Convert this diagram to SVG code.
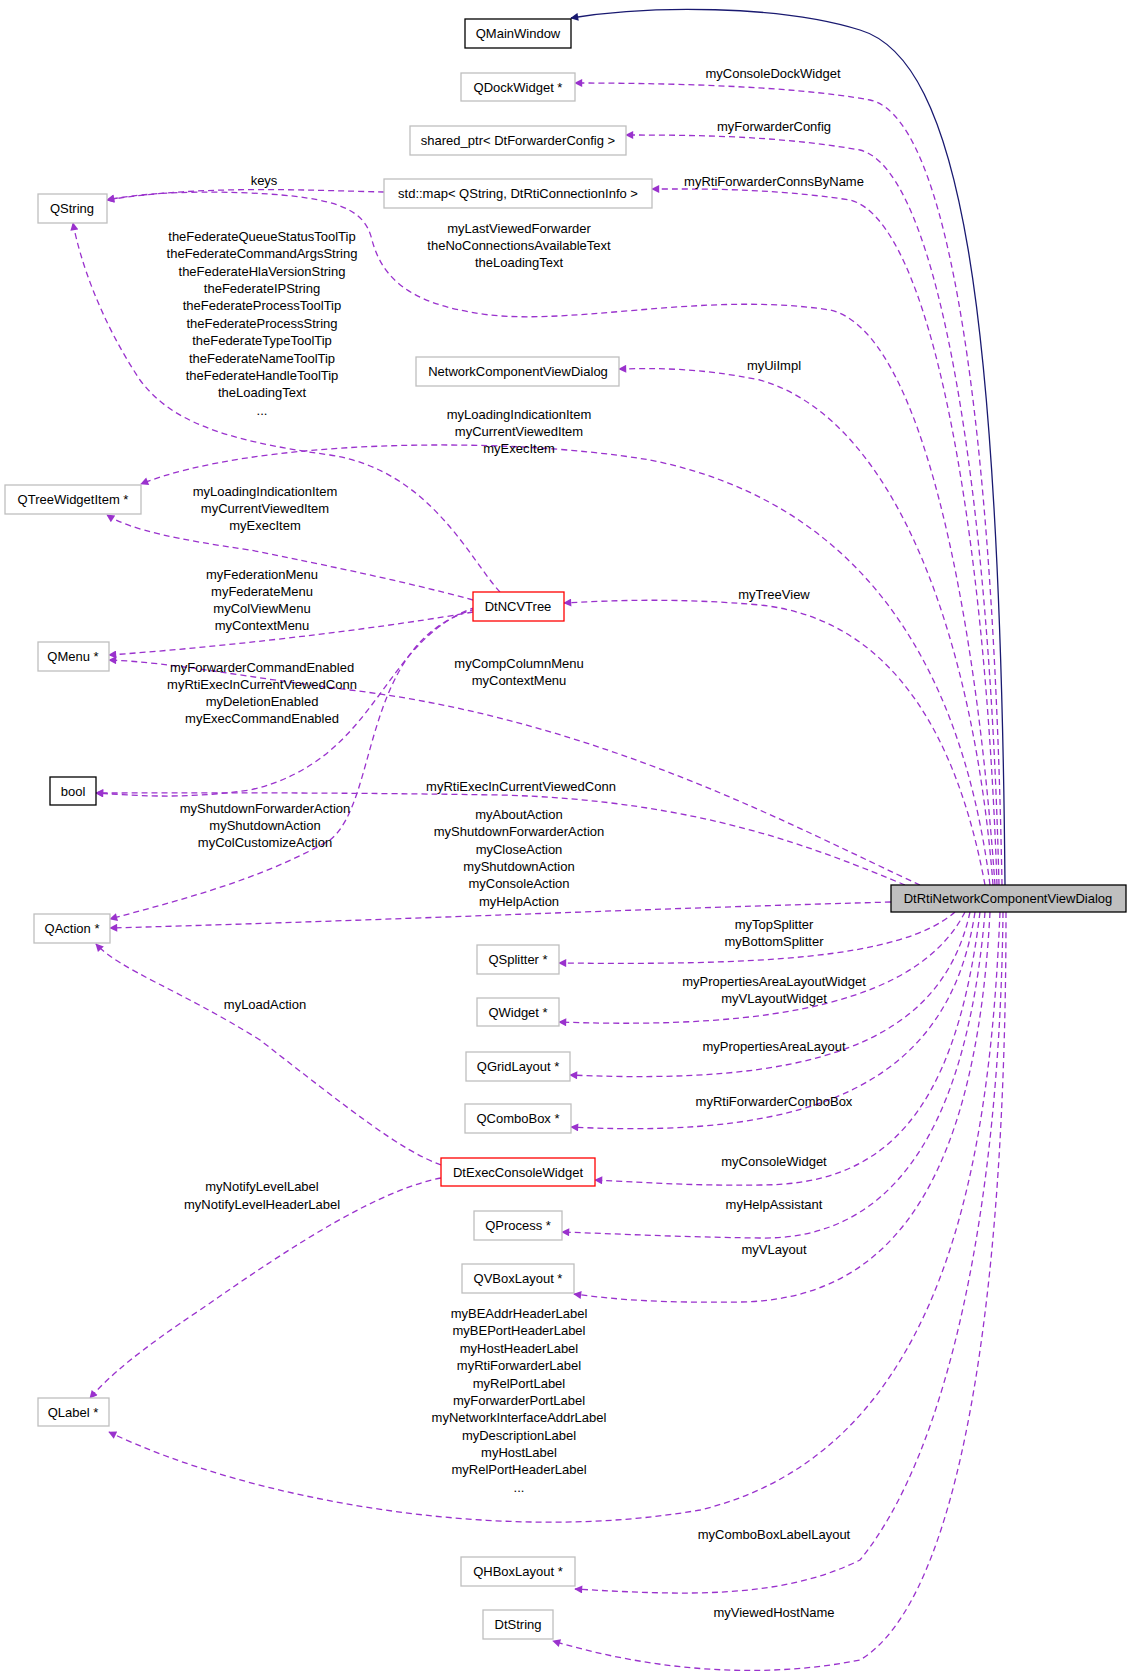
<svg xmlns="http://www.w3.org/2000/svg" width="1131" height="1673" viewBox="0 0 1131 1673">
<style>
text{font-family:"Liberation Sans",Arial,sans-serif;font-size:13px;fill:#000;text-anchor:middle}
.n{fill:#fff;stroke:#bfbfbf;stroke-width:1.3}
.b{fill:#fff;stroke:#000;stroke-width:1.3}
.r{fill:#fff;stroke:#ff0000;stroke-width:1.3}
.m{fill:#bfbfbf;stroke:#000;stroke-width:1.3}
.e{fill:none;stroke:#9a32cd;stroke-width:1.3;stroke-dasharray:6,4;marker-end:url(#ap)}
.s{fill:none;stroke:#191970;stroke-width:1.3;marker-end:url(#an)}
</style>
<defs>
<marker id="ap" viewBox="0 0 10 10" refX="9" refY="5" markerWidth="10" markerHeight="8" markerUnits="userSpaceOnUse" orient="auto"><path d="M0,0L10,5L0,10z" fill="#9a32cd"/></marker>
<marker id="an" viewBox="0 0 10 10" refX="9" refY="5" markerWidth="10" markerHeight="8" markerUnits="userSpaceOnUse" orient="auto"><path d="M0,0L10,5L0,10z" fill="#191970"/></marker>
</defs>
<rect width="1131" height="1673" fill="#fff"/>
<g id="connectors">
<path class="s" d="M1005,885 C1000,300 960,60 860,30 C780,5 650,5 571,18"/>
<path class="e" d="M1002,885 C995,500 960,120 870,100 C790,85 650,83 575,83"/>
<path class="e" d="M999,885 C990,500 940,170 860,150 C780,136 700,135 626,135"/>
<path class="e" d="M997,885 C985,520 930,220 850,200 C770,188 700,189 652,189"/>
<path class="e" d="M384,192 C300,190 200,185 107,200"/>
<path class="e" d="M995,885 C975,600 920,330 830,310 C700,290 560,330 470,312 C400,300 380,270 372,240 C365,210 340,197 250,193 C180,190 130,195 107,200"/>
<path class="e" d="M993,885 C975,650 900,420 760,380 C700,368 660,368 619,369"/>
<path class="e" d="M990,885 C960,650 850,500 650,460 C500,435 250,440 141,484"/>
<path class="e" d="M473,600 C400,580 300,560 250,550 C180,540 130,530 107,515"/>
<path class="e" d="M500,592 C470,560 430,470 330,455 C220,440 170,420 140,380 C100,320 80,260 73,223"/>
<path class="e" d="M985,885 C960,750 900,620 760,605 C680,598 620,600 564,603"/>
<path class="e" d="M473,612 C400,625 250,645 109,655"/>
<path class="e" d="M920,885 C800,830 600,720 350,690 C250,678 170,662 109,660"/>
<path class="e" d="M476,607 C380,640 380,760 250,790 C180,800 130,795 96,793"/>
<path class="e" d="M905,885 C820,850 700,800 500,795 C300,792 200,793 96,793"/>
<path class="e" d="M476,609 C360,640 380,800 330,840 C260,880 180,900 110,919"/>
<path class="e" d="M891,902 C600,910 400,920 110,928"/>
<path class="e" d="M955,912 C900,960 750,965 559,963"/>
<path class="e" d="M965,912 C920,1000 780,1030 559,1022"/>
<path class="e" d="M970,912 C940,1050 800,1085 570,1075"/>
<path class="e" d="M975,912 C950,1080 820,1140 571,1127"/>
<path class="e" d="M980,912 C955,1120 880,1185 760,1185 C690,1186 640,1182 595,1180"/>
<path class="e" d="M985,912 C965,1150 880,1240 760,1238 C680,1237 620,1234 562,1232"/>
<path class="e" d="M990,912 C975,1200 880,1300 740,1302 C660,1303 620,1300 574,1294"/>
<path class="e" d="M1000,912 C990,1150 950,1450 700,1510 C500,1545 250,1500 109,1432"/>
<path class="e" d="M441,1178 C380,1190 300,1240 200,1310 C140,1350 110,1375 90,1398"/>
<path class="e" d="M441,1165 C400,1150 350,1110 260,1040 C180,990 120,970 96,944"/>
<path class="e" d="M1003,912 C1000,1200 950,1450 860,1560 C780,1600 680,1595 575,1589"/>
<path class="e" d="M1006,912 C1006,1300 960,1600 860,1660 C760,1680 650,1670 553,1641"/>
</g>
<g id="labels">
<text x="773" y="78">myConsoleDockWidget</text>
<text x="774" y="131">myForwarderConfig</text>
<text x="774" y="186">myRtiForwarderConnsByName</text>
<text x="264" y="185">keys</text>
<text x="519" y="233">myLastViewedForwarder</text>
<text x="519" y="250">theNoConnectionsAvailableText</text>
<text x="519" y="267">theLoadingText</text>
<text x="262" y="241">theFederateQueueStatusToolTip</text>
<text x="262" y="258">theFederateCommandArgsString</text>
<text x="262" y="276">theFederateHlaVersionString</text>
<text x="262" y="293">theFederateIPString</text>
<text x="262" y="310">theFederateProcessToolTip</text>
<text x="262" y="328">theFederateProcessString</text>
<text x="262" y="345">theFederateTypeToolTip</text>
<text x="262" y="363">theFederateNameToolTip</text>
<text x="262" y="380">theFederateHandleToolTip</text>
<text x="262" y="397">theLoadingText</text>
<text x="262" y="415">...</text>
<text x="774" y="370">myUiImpl</text>
<text x="519" y="419">myLoadingIndicationItem</text>
<text x="519" y="436">myCurrentViewedItem</text>
<text x="519" y="453">myExecItem</text>
<text x="265" y="496">myLoadingIndicationItem</text>
<text x="265" y="513">myCurrentViewedItem</text>
<text x="265" y="530">myExecItem</text>
<text x="774" y="599">myTreeView</text>
<text x="262" y="579">myFederationMenu</text>
<text x="262" y="596">myFederateMenu</text>
<text x="262" y="613">myColViewMenu</text>
<text x="262" y="630">myContextMenu</text>
<text x="519" y="668">myCompColumnMenu</text>
<text x="519" y="685">myContextMenu</text>
<text x="262" y="672">myForwarderCommandEnabled</text>
<text x="262" y="689">myRtiExecInCurrentViewedConn</text>
<text x="262" y="706">myDeletionEnabled</text>
<text x="262" y="723">myExecCommandEnabled</text>
<text x="521" y="791">myRtiExecInCurrentViewedConn</text>
<text x="265" y="813">myShutdownForwarderAction</text>
<text x="265" y="830">myShutdownAction</text>
<text x="265" y="847">myColCustomizeAction</text>
<text x="519" y="819">myAboutAction</text>
<text x="519" y="836">myShutdownForwarderAction</text>
<text x="519" y="854">myCloseAction</text>
<text x="519" y="871">myShutdownAction</text>
<text x="519" y="888">myConsoleAction</text>
<text x="519" y="906">myHelpAction</text>
<text x="774" y="929">myTopSplitter</text>
<text x="774" y="946">myBottomSplitter</text>
<text x="774" y="986">myPropertiesAreaLayoutWidget</text>
<text x="774" y="1003">myVLayoutWidget</text>
<text x="774" y="1051">myPropertiesAreaLayout</text>
<text x="774" y="1106">myRtiForwarderComboBox</text>
<text x="265" y="1009">myLoadAction</text>
<text x="774" y="1166">myConsoleWidget</text>
<text x="262" y="1191">myNotifyLevelLabel</text>
<text x="262" y="1209">myNotifyLevelHeaderLabel</text>
<text x="774" y="1209">myHelpAssistant</text>
<text x="774" y="1254">myVLayout</text>
<text x="519" y="1318">myBEAddrHeaderLabel</text>
<text x="519" y="1335">myBEPortHeaderLabel</text>
<text x="519" y="1353">myHostHeaderLabel</text>
<text x="519" y="1370">myRtiForwarderLabel</text>
<text x="519" y="1388">myRelPortLabel</text>
<text x="519" y="1405">myForwarderPortLabel</text>
<text x="519" y="1422">myNetworkInterfaceAddrLabel</text>
<text x="519" y="1440">myDescriptionLabel</text>
<text x="519" y="1457">myHostLabel</text>
<text x="519" y="1474">myRelPortHeaderLabel</text>
<text x="519" y="1492">...</text>
<text x="774" y="1539">myComboBoxLabelLayout</text>
<text x="774" y="1617">myViewedHostName</text>
</g>
<g id="n_main"><rect class="m" x="891" y="885" width="235" height="27"/><text x="1008" y="903">DtRtiNetworkComponentViewDialog</text></g>
<g id="n_qmainwindow"><rect class="b" x="465" y="19" width="106" height="29"/><text x="518" y="38">QMainWindow</text></g>
<g id="n_qdockwidget"><rect class="n" x="461" y="73" width="114" height="28"/><text x="518" y="92">QDockWidget *</text></g>
<g id="n_sharedptr"><rect class="n" x="410" y="126" width="216" height="29"/><text x="518" y="145">shared_ptr&lt; DtForwarderConfig &gt;</text></g>
<g id="n_stdmap"><rect class="n" x="384" y="179" width="268" height="29"/><text x="518" y="198">std::map&lt; QString, DtRtiConnectionInfo &gt;</text></g>
<g id="n_qstring"><rect class="n" x="38" y="194" width="69" height="29"/><text x="72" y="213">QString</text></g>
<g id="n_ncvd"><rect class="n" x="416" y="357" width="203" height="29"/><text x="518" y="376">NetworkComponentViewDialog</text></g>
<g id="n_qtreewidgetitem"><rect class="n" x="5" y="485" width="136" height="29"/><text x="73" y="504">QTreeWidgetItem *</text></g>
<g id="n_dtncvtree"><rect class="r" x="473" y="592" width="91" height="29"/><text x="518" y="611">DtNCVTree</text></g>
<g id="n_qmenu"><rect class="n" x="38" y="642" width="71" height="29"/><text x="73" y="661">QMenu *</text></g>
<g id="n_bool"><rect class="b" x="50" y="777" width="46" height="28"/><text x="73" y="796">bool</text></g>
<g id="n_qaction"><rect class="n" x="34" y="914" width="76" height="29"/><text x="72" y="933">QAction *</text></g>
<g id="n_qsplitter"><rect class="n" x="477" y="945" width="82" height="29"/><text x="518" y="964">QSplitter *</text></g>
<g id="n_qwidget"><rect class="n" x="477" y="998" width="82" height="28"/><text x="518" y="1017">QWidget *</text></g>
<g id="n_qgridlayout"><rect class="n" x="466" y="1052" width="104" height="29"/><text x="518" y="1071">QGridLayout *</text></g>
<g id="n_qcombobox"><rect class="n" x="465" y="1104" width="106" height="29"/><text x="518" y="1123">QComboBox *</text></g>
<g id="n_dtexec"><rect class="r" x="441" y="1158" width="154" height="28"/><text x="518" y="1177">DtExecConsoleWidget</text></g>
<g id="n_qprocess"><rect class="n" x="474" y="1211" width="88" height="29"/><text x="518" y="1230">QProcess *</text></g>
<g id="n_qvboxlayout"><rect class="n" x="462" y="1264" width="112" height="29"/><text x="518" y="1283">QVBoxLayout *</text></g>
<g id="n_qlabel"><rect class="n" x="38" y="1398" width="71" height="28"/><text x="73" y="1417">QLabel *</text></g>
<g id="n_qhboxlayout"><rect class="n" x="461" y="1557" width="114" height="29"/><text x="518" y="1576">QHBoxLayout *</text></g>
<g id="n_dtstring"><rect class="n" x="483" y="1610" width="70" height="29"/><text x="518" y="1629">DtString</text></g>
</svg>
